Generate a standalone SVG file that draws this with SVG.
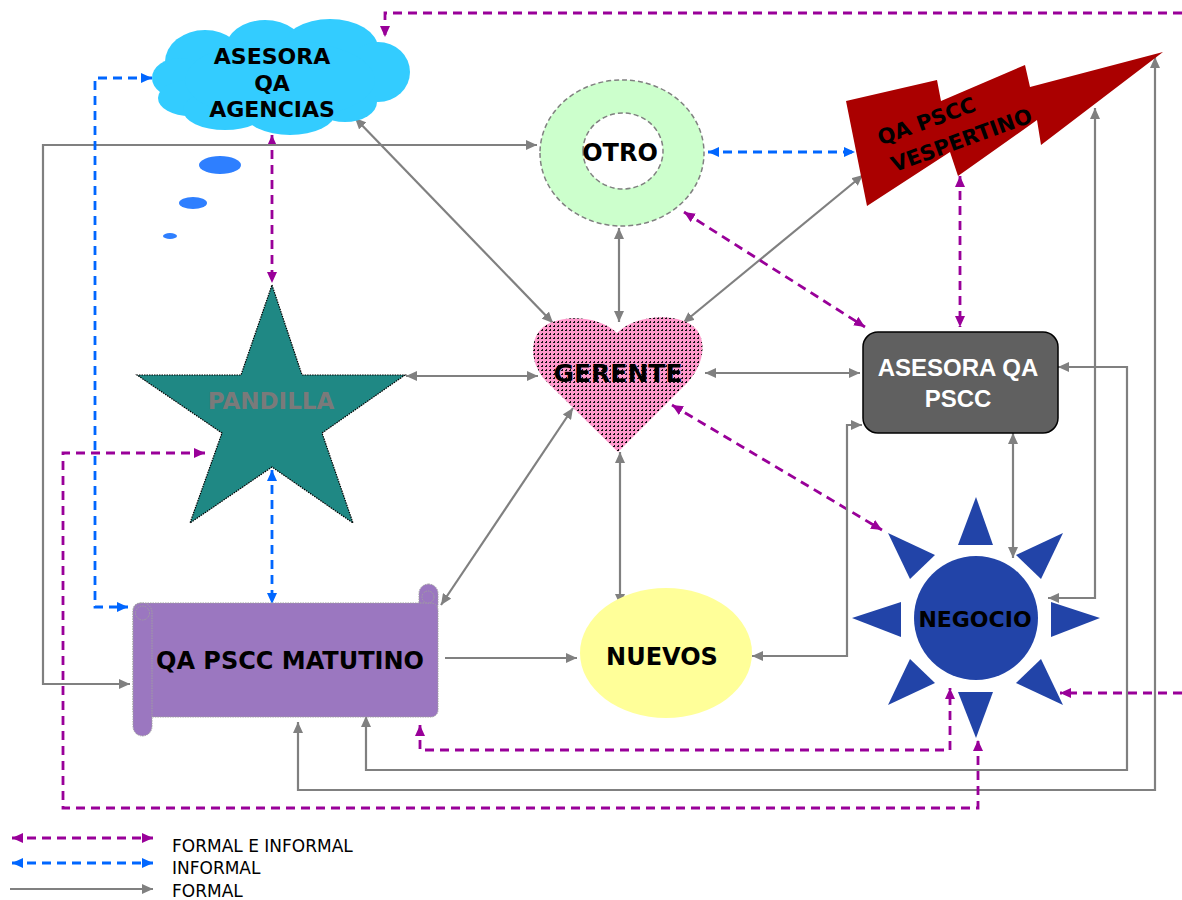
<svg xmlns="http://www.w3.org/2000/svg" width="1182" height="900" viewBox="0 0 1182 900">
<style>
.b{font-family:"DejaVu Sans",Verdana,sans-serif;font-weight:bold;text-anchor:middle;fill:#000}
.g{fill:none;stroke:#808080;stroke-width:2.2}
.p{fill:none;stroke:#990099;stroke-width:2.8;stroke-dasharray:9,6}
.u{fill:none;stroke:#0066ff;stroke-width:2.8;stroke-dasharray:9,6}
.lg{font-family:"DejaVu Sans",Verdana,sans-serif;font-size:17px;fill:#000}
</style>
<defs>
<marker id="ag" markerUnits="userSpaceOnUse" markerWidth="12" markerHeight="10" refX="11" refY="5" orient="auto-start-reverse"><path d="M0,0 L11,5 L0,10 z" fill="#808080"/></marker>
<marker id="ap" markerUnits="userSpaceOnUse" markerWidth="12" markerHeight="10" refX="11" refY="5" orient="auto-start-reverse"><path d="M0,0 L11,5 L0,10 z" fill="#990099"/></marker>
<marker id="au" markerUnits="userSpaceOnUse" markerWidth="12" markerHeight="10" refX="11" refY="5" orient="auto-start-reverse"><path d="M0,0 L11,5 L0,10 z" fill="#0066ff"/></marker>
<pattern id="dots" width="4" height="4" patternUnits="userSpaceOnUse"><rect width="4" height="4" fill="#ff99cc"/><rect x="1" y="1" width="2" height="2" fill="#111"/><rect x="1" y="1" width="1" height="1" fill="#ff99cc"/></pattern>
</defs>
<rect width="1182" height="900" fill="#fff"/>

<g id="connectors">
<path class="p" d="M1182,13 H385 V37" marker-end="url(#ap)"/>
<path class="p" d="M272,135 V283" marker-start="url(#ap)" marker-end="url(#ap)"/>
<path class="g" d="M537,145 H43 V684 H130" marker-start="url(#ag)" marker-end="url(#ag)"/>
<path class="u" d="M152,78 H95 V607 H128" marker-start="url(#au)" marker-end="url(#au)"/>
<path class="u" d="M708,152 H855" marker-start="url(#au)" marker-end="url(#au)"/>
<path class="g" d="M355,118 L553,323" marker-start="url(#ag)" marker-end="url(#ag)"/>
<path class="g" d="M619,228 V322" marker-start="url(#ag)" marker-end="url(#ag)"/>
<path class="g" d="M683,323 L863,175" marker-start="url(#ag)" marker-end="url(#ag)"/>
<path class="p" d="M684,212 L865,327" marker-start="url(#ap)" marker-end="url(#ap)"/>
<path class="p" d="M960,176 V327" marker-start="url(#ap)" marker-end="url(#ap)"/>
<path class="g" d="M406,376 H538" marker-start="url(#ag)" marker-end="url(#ag)"/>
<path class="g" d="M705,373 H860" marker-start="url(#ag)" marker-end="url(#ag)"/>
<path class="g" d="M573,408 L441,605" marker-start="url(#ag)" marker-end="url(#ag)"/>
<path class="g" d="M620,452 V605" marker-start="url(#ag)" marker-end="url(#ag)"/>
<path class="p" d="M672,405 L882,530" marker-start="url(#ap)" marker-end="url(#ap)"/>
<path class="g" d="M445,658 H577" marker-end="url(#ag)"/>
<path class="g" d="M752,656 H847 V425 H862" marker-start="url(#ag)" marker-end="url(#ag)"/>
<path class="g" d="M1013,433 V558" marker-start="url(#ag)" marker-end="url(#ag)"/>
<path class="g" d="M1095,108 V598 H1048" marker-start="url(#ag)" marker-end="url(#ag)"/>
<path class="g" d="M1155,57 V790 H298 V722" marker-start="url(#ag)" marker-end="url(#ag)"/>
<path class="g" d="M1058,367 H1127 V770 H366 V716" marker-start="url(#ag)" marker-end="url(#ag)"/>
<path class="p" d="M420,725 V750 H950 V688" marker-start="url(#ap)" marker-end="url(#ap)"/>
<path class="p" d="M205,453 H63 V808 H978 V740" marker-start="url(#ap)" marker-end="url(#ap)"/>
<path class="p" d="M1182,693 H1060" marker-end="url(#ap)"/>
<path class="u" d="M272,470 V604" marker-start="url(#au)" marker-end="url(#au)"/>
</g>

<g id="asesora-qa-agencias">
<g fill="#33ccff">
<ellipse cx="205" cy="62" rx="40" ry="32"/>
<ellipse cx="265" cy="50" rx="40" ry="30"/>
<ellipse cx="330" cy="48" rx="48" ry="29"/>
<ellipse cx="378" cy="72" rx="32" ry="30"/>
<ellipse cx="180" cy="78" rx="28" ry="20"/>
<ellipse cx="190" cy="98" rx="32" ry="18"/>
<ellipse cx="225" cy="110" rx="42" ry="20"/>
<ellipse cx="290" cy="113" rx="45" ry="22"/>
<ellipse cx="345" cy="102" rx="32" ry="20"/>
<ellipse cx="280" cy="80" rx="95" ry="40"/>
</g>
<g fill="#2e7fff">
<ellipse cx="220" cy="165" rx="21" ry="9"/>
<ellipse cx="193" cy="203" rx="14" ry="6"/>
<ellipse cx="170" cy="236" rx="7" ry="3"/>
</g>
<text class="b" font-size="22" x="272" y="64">ASESORA</text>
<text class="b" font-size="22" x="272" y="91">QA</text>
<text class="b" font-size="22" x="272" y="117">AGENCIAS</text>
</g>

<g id="otro">
<path d="M540,153 A82,73 0 1 0 704,153 A82,73 0 1 0 540,153 Z M583,151 A40,38 0 1 1 663,151 A40,38 0 1 1 583,151 Z" fill="#ccffcc" fill-rule="evenodd" stroke="#808080" stroke-width="1.5" stroke-dasharray="5,3"/>
<text class="b" font-size="24" x="620" y="161">OTRO</text>
</g>

<g id="qa-pscc-vespertino">
<polygon points="846,101 937,80 941,101 1025,65 1030,87 1163,52 1041,145 1037,120 958,176 950,152 867,206" fill="#aa0000"/>
<text class="b" font-size="21" transform="translate(929,128) rotate(-20)">QA PSCC</text>
<text class="b" font-size="21" transform="translate(964,147) rotate(-20)">VESPERTINO</text>
</g>

<g id="gerente">
<path d="M617,333 C600,316 565,314 546,325 C530,335 528,360 545,380 L618,452 L688,382 C706,362 708,335 690,324 C672,313 635,315 617,333 Z" fill="url(#dots)"/>
<text class="b" font-size="25" x="618" y="382">GERENTE</text>
</g>

<g id="pandilla">
<polygon points="272,285 302,375 405,375 322,433 353,523 272,467 190,523 222,433 137,375 241,375" fill="#1f8884" stroke="#000" stroke-width="1.2" stroke-dasharray="1.5,1"/>
<text class="b" font-size="23" x="271" y="409" style="fill:#7a7a7a">PANDILLA</text>
</g>

<g id="asesora-qa-pscc">
<rect x="863" y="332" width="195" height="101" rx="15" fill="#606060" stroke="#000" stroke-width="1.5"/>
<text font-family="'Liberation Sans',Arial,sans-serif" font-weight="bold" font-size="24" fill="#fff" text-anchor="middle" x="958" y="376">ASESORA QA</text>
<text font-family="'Liberation Sans',Arial,sans-serif" font-weight="bold" font-size="24" fill="#fff" text-anchor="middle" x="958" y="407">PSCC</text>
</g>

<g id="qa-pscc-matutino">
<g fill="#9b77c0" stroke="#a0a0a0" stroke-width="1" stroke-dasharray="1.5,1">
<rect x="419" y="584" width="19" height="30" rx="9.5"/>
<rect x="133" y="603" width="305" height="114" rx="7"/>
<rect x="133" y="603" width="19" height="133" rx="9.5"/>
<circle cx="142.5" cy="613" r="7"/>
<circle cx="428" cy="597" r="6"/>
</g>
<text class="b" font-size="24" x="290" y="669">QA PSCC MATUTINO</text>
</g>

<g id="nuevos">
<ellipse cx="666" cy="653" rx="86" ry="65" fill="#ffff99"/>
<text class="b" font-size="24" x="662" y="665">NUEVOS</text>
</g>

<g id="negocio">
<g fill="#2244a8">
<circle cx="976" cy="618" r="62"/>
<polygon points="976,497 958,545 993,545"/>
<polygon points="976,738 958,692 993,692"/>
<polygon points="852,618 901,602 901,637"/>
<polygon points="1100,618 1051,602 1051,637"/>
<polygon points="888,533 935,555 910,579"/>
<polygon points="1063,533 1016,555 1041,579"/>
<polygon points="888,705 935,683 910,659"/>
<polygon points="1063,705 1016,683 1041,659"/>
</g>
<text class="b" font-size="22" x="975" y="627">NEGOCIO</text>
</g>

<g id="legend">
<path class="p" d="M12,838 H153" marker-start="url(#ap)" marker-end="url(#ap)"/>
<path class="u" d="M12,863 H153" marker-start="url(#au)" marker-end="url(#au)"/>
<path class="g" d="M10,889 H153" marker-end="url(#ag)"/>
<text class="lg" x="172" y="852">FORMAL E INFORMAL</text>
<text class="lg" x="172" y="874">INFORMAL</text>
<text class="lg" x="172" y="897">FORMAL</text>
</g>
</svg>
